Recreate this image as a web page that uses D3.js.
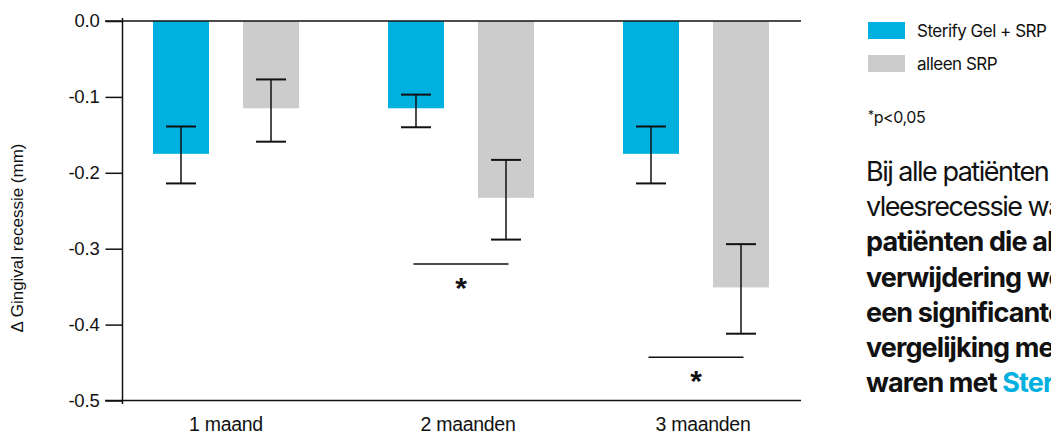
<!DOCTYPE html>
<html>
<head>
<meta charset="utf-8">
<script src="https://cdn.jsdelivr.net/npm/d3@7"></script>
<style>
  html, body { margin: 0; padding: 0; background: #fff; }
  svg { display: block; }
</style>
</head>
<body>
<svg id="chart" width="1051" height="436"></svg>
<script>
// ---------- data ----------
const categories = ["1 maand", "2 maanden", "3 maanden"];
const seriesNames = ["Sterify Gel + SRP", "alleen SRP"];
const sterifyValues = [-0.175, -0.115, -0.175];
const sterifyErrTop = [-0.139, -0.097, -0.139];
const sterifyErrBottom = [-0.214, -0.140, -0.214];
const srpValues = [-0.115, -0.233, -0.351];
const srpErrTop = [-0.077, -0.183, -0.294];
const srpErrBottom = [-0.159, -0.288, -0.412];
const yTicks = [0, -0.1, -0.2, -0.3, -0.4, -0.5];
const yTickLabels = ["0.0", "-0.1", "-0.2", "-0.3", "-0.4", "-0.5"];
const significance = [
  { category: "2 maanden", level: -0.32, label: "*" },
  { category: "3 maanden", level: -0.443, label: "*" }
];
const yAxisTitle = "Δ Gingival recessie (mm)";
const footnote = "*p<0,05";
const paragraphLines = [
  { parts: [{ t: "Bij alle patiënten nam de tand", bold: false }] },
  { parts: [{ t: "vleesrecessie wat toe. Bij", bold: false }] },
  { parts: [{ t: "patiënten die alleen tandsteen", bold: true }] },
  { parts: [{ t: "verwijdering werd gedaan was", bold: true }] },
  { parts: [{ t: "een significante toename in", bold: true }] },
  { parts: [{ t: "vergelijking met patiënten die", bold: true }] },
  { parts: [{ t: "waren met ", bold: true }, { t: "Sterify Gel", bold: true, accent: true }] }
];

// ---------- style ----------
const colors = { "Sterify Gel + SRP": "#00b0de", "alleen SRP": "#cccccc" };
const ink = "#111111";

const svg = d3.select("#chart");

const y = d3.scaleLinear().domain([0, -0.5]).range([21, 400.5]);
const x0 = d3.scaleBand().domain(categories).range([108.5, 813.5]);
const x1 = d3.scaleBand().domain(seriesNames).range([44.5, 190.5]).paddingInner(0.378);

const rows = categories.map((c, i) => ({
  category: c,
  values: [
    { series: seriesNames[0], v: sterifyValues[i], top: sterifyErrTop[i], bottom: sterifyErrBottom[i] },
    { series: seriesNames[1], v: srpValues[i], top: srpErrTop[i], bottom: srpErrBottom[i] }
  ]
}));

// bars
const g = svg.append("g");
const groups = g.selectAll("g.grp").data(rows).join("g")
  .attr("class", "grp")
  .attr("transform", d => `translate(${x0(d.category)},0)`);

groups.selectAll("rect").data(d => d.values).join("rect")
  .attr("x", d => x1(d.series))
  .attr("width", x1.bandwidth())
  .attr("y", y(0))
  .attr("height", d => y(d.v) - y(0))
  .attr("fill", d => colors[d.series]);

// error bars
const capW = 30;
groups.each(function(d) {
  const gg = d3.select(this);
  d.values.forEach(v => {
    const cx = x1(v.series) + x1.bandwidth() / 2;
    gg.append("line").attr("x1", cx).attr("x2", cx).attr("y1", y(v.top)).attr("y2", y(v.bottom))
      .attr("stroke", ink).attr("stroke-width", 1.5);
    [v.top, v.bottom].forEach(e => {
      gg.append("line").attr("x1", cx - capW / 2).attr("x2", cx + capW / 2)
        .attr("y1", y(e)).attr("y2", y(e))
        .attr("stroke", ink).attr("stroke-width", 2);
    });
  });
});

// axes
const yAxis = d3.axisLeft(y).tickValues(yTicks).tickSize(17)
  .tickFormat((d, i) => yTickLabels[i]);
const ya = svg.append("g").attr("transform", "translate(122.5,0)").call(yAxis);
ya.select(".domain").remove();
ya.selectAll(".tick line").attr("stroke", ink).attr("stroke-width", 1.5);
ya.selectAll(".tick text")
  .attr("x", -23)
  .attr("fill", ink)
  .style("font-family", "'Liberation Sans', Arial, sans-serif")
  .style("font-size", "18.5px")
  .style("letter-spacing", "-0.2px");

svg.append("line").attr("x1", 122.5).attr("x2", 122.5).attr("y1", 18).attr("y2", 404)
  .attr("stroke", ink).attr("stroke-width", 1.5);
svg.append("line").attr("x1", 105).attr("x2", 801).attr("y1", y(0)).attr("y2", y(0))
  .attr("stroke", ink).attr("stroke-width", 1.5);
svg.append("line").attr("x1", 105).attr("x2", 801).attr("y1", y(-0.5)).attr("y2", y(-0.5))
  .attr("stroke", ink).attr("stroke-width", 1.5);

// category labels
const catOffset = [0, 7, 7];
svg.append("g").selectAll("text").data(categories).join("text")
  .attr("x", (d, i) => x0(d) + x0.bandwidth() / 2 + catOffset[i])
  .attr("y", 431)
  .attr("text-anchor", "middle")
  .attr("fill", ink)
  .style("font-family", "'Liberation Sans', Arial, sans-serif")
  .style("font-size", "19.5px")
  .style("letter-spacing", "-0.3px")
  .text(d => d);

// y title
svg.append("text")
  .attr("transform", "translate(23,238) rotate(-90)")
  .attr("text-anchor", "middle")
  .attr("fill", ink)
  .style("font-family", "'Liberation Sans', Arial, sans-serif")
  .style("font-size", "17px")
  .text(yAxisTitle);

// significance
const sigW = 95;
significance.forEach(s => {
  const cx = x0(s.category) + x0.bandwidth() / 2;
  svg.append("line").attr("x1", cx - sigW / 2).attr("x2", cx + sigW / 2)
    .attr("y1", y(s.level)).attr("y2", y(s.level))
    .attr("stroke", ink).attr("stroke-width", 1.5);
  svg.append("text").attr("x", cx).attr("y", y(s.level) + 34)
    .attr("text-anchor", "middle").attr("fill", ink)
    .style("font-family", "'Liberation Sans', Arial, sans-serif")
    .style("font-size", "30px")
    .style("font-weight", 700)
    .text(s.label);
});

// legend
const legend = svg.append("g").attr("transform", "translate(868,22)");
seriesNames.forEach((n, i) => {
  legend.append("rect").attr("x", 0).attr("y", i * 33).attr("width", 37).attr("height", 17)
    .attr("fill", colors[n]);
  legend.append("text").attr("x", 49).attr("y", i * 33 + 15)
    .attr("fill", ink)
    .style("font-family", "Inter, sans-serif")
    .style("font-size", "17px")
    .style("letter-spacing", "-0.5px")
    .text(n);
});

// footnote
const fn = svg.append("text").attr("x", 868).attr("y", 123)
  .attr("fill", ink)
  .style("font-family", "Inter, sans-serif")
  .style("font-size", "16px")
  .style("letter-spacing", "-0.4px");
fn.append("tspan").attr("dy", "-4").style("font-size", "12px").text(footnote.slice(0, 1));
fn.append("tspan").attr("dy", "4").text(footnote.slice(1));

// paragraph
const para = svg.append("g").attr("transform", "translate(866,0)");
paragraphLines.forEach((ln, i) => {
  const t = para.append("text").attr("x", 0).attr("y", 181 + i * 35.2)
    .attr("fill", ink)
    .style("font-family", "Inter, sans-serif")
    .style("font-size", "27px");
  ln.parts.forEach(p => {
    t.append("tspan")
      .style("font-weight", p.bold ? 700 : 400)
      .style("letter-spacing", p.bold ? "-0.9px" : "-1.5px")
      .attr("fill", p.accent ? "#00b0de" : ink)
      .text(p.t);
  });
});
</script>
</body>
</html>
